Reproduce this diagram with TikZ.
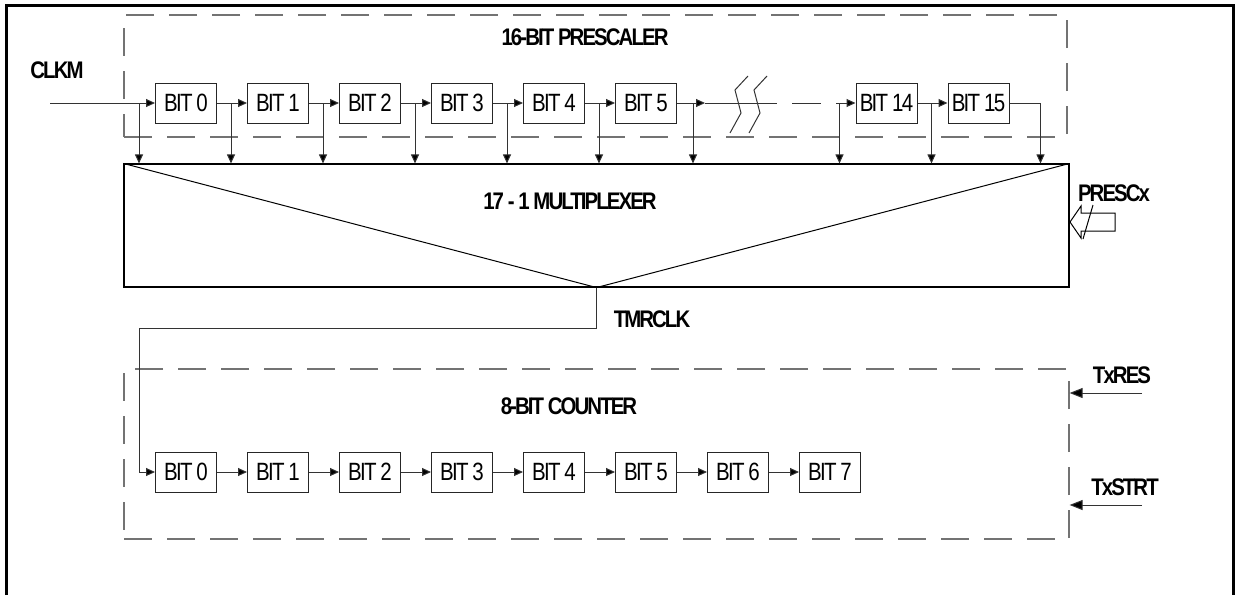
\documentclass[tikz,border=0pt]{standalone}
\usepackage{fontspec}
\setmainfont{Liberation Sans}
\newfontfamily\lblfont[FakeStretch=0.85,LetterSpace=-8]{Liberation Sans}
\newfontfamily\bitfont[FakeStretch=0.82,LetterSpace=-7]{Liberation Sans}
\usetikzlibrary{arrows.meta,positioning,calc}

\begin{document}
\begin{tikzpicture}[x=1pt, y=-1pt, node distance=30pt,
  bitbox/.style={draw=black!85, line width=1pt, minimum width=61pt, minimum height=40pt, inner sep=0pt, font={\bitfont\fontsize{25}{25}\selectfont}},
  lbl/.style={font={\lblfont\bfseries\fontsize{24}{24}\selectfont}, inner sep=0pt},
  groupbox/.style={draw=black!55, line width=1.2pt, dash pattern=on 28pt off 15pt, inner sep=0pt},
  wire/.style={draw=black!80, line width=1pt},
  sig/.style={wire, -{Triangle[length=9pt,width=8pt,fill=black]}},
  ctlsig/.style={wire, -{Triangle[length=13pt,width=10pt,fill=black]}}]
\useasboundingbox (0,0) rectangle (1239,595);
% outer frame, open at the bottom
\draw[line width=3pt] (6,595) -- (6,5) -- (1233,5) -- (1233,595);

% prescaler
\node[groupbox, minimum width=943pt, minimum height=122pt] (pre) at (595.5,76) {};
\node[lbl] (pretitle) at (585,37) {16-BIT PRESCALER};
\node[bitbox] (p0) at (186,103) {BIT 0};
\node[bitbox, right=of p0] (p1) {BIT 1};
\node[bitbox, right=of p1] (p2) {BIT 2};
\node[bitbox, right=of p2] (p3) {BIT 3};
\node[bitbox, right=of p3] (p4) {BIT 4};
\node[bitbox, right=of p4] (p5) {BIT 5};
\node[bitbox] (p14) at (886.5,103) {BIT 14};
\node[bitbox, right=of p14] (p15) {BIT 15};
\node[lbl] (clkm) at (57,70) {CLKM};

% multiplexer
\node[draw, line width=1.1pt, minimum width=945pt, minimum height=123pt, inner sep=0pt] (mux) at (596.5,225.5) {};
\draw[line width=1pt] (mux.north west) -- (mux.south) -- (mux.north east);
\node[lbl] (muxtitle) at (570,201) {17 - 1 MULTIPLEXER};
\node[lbl] (presc) at (1114,193) {PRESCx};
\draw[line width=1pt] (1070,222) -- (1081,206) -- (1081,213) -- (1115,213) -- (1115,231) -- (1081,231) -- (1081,238) -- cycle;
\draw[line width=1pt] (1093,205) -- (1083,239);

% prescaler chain
\coordinate (clk) at (50,103);
\draw[sig] (clk) -- (p0);
\draw[sig] (p0) -- (p1);
\draw[sig] (p1) -- (p2);
\draw[sig] (p2) -- (p3);
\draw[sig] (p3) -- (p4);
\draw[sig] (p4) -- (p5);
\coordinate (brk) at (705,103);
\draw[sig] (p5.east) -- (brk);
\draw[wire] (brk) -- (777,103);
\draw[wire] (792,103) -- (821,103);
\coordinate (b14) at (836,103);
\draw[sig] (b14) -- (p14);
\draw[sig] (p14) -- (p15);
\coordinate (t15) at ($(p15.east)+(31,0)$);
\draw[sig] (p15.east) -| (t15 |- mux.north);
% break marks
\draw[wire] (748,76) -- (735,90) -- (741,113) -- (730,133);
\draw[wire] (767,76) -- (754,90) -- (760,113) -- (749,133);

% taps into the multiplexer
\foreach \b in {p0,p1,p2,p3,p4,p5,p14,p15} {
  \coordinate (t\b) at ($(\b.west)+(-16,0)$);
  \draw[sig] (t\b) -- (t\b |- mux.north);
}
\coordinate (t5o) at ($(p5.east)+(16,0)$);
\draw[sig] (t5o) -- (t5o |- mux.north);

% counter
\node[groupbox, minimum width=945pt, minimum height=170pt] (cnt) at (596.5,454) {};
\node[lbl] (cnttitle) at (569,406) {8-BIT COUNTER};
\node[bitbox] (c0) at (186,472) {BIT 0};
\node[bitbox, right=of c0] (c1) {BIT 1};
\node[bitbox, right=of c1] (c2) {BIT 2};
\node[bitbox, right=of c2] (c3) {BIT 3};
\node[bitbox, right=of c3] (c4) {BIT 4};
\node[bitbox, right=of c4] (c5) {BIT 5};
\node[bitbox, right=of c5] (c6) {BIT 6};
\node[bitbox, right=of c6] (c7) {BIT 7};
\draw[sig] (c0) -- (c1);
\draw[sig] (c1) -- (c2);
\draw[sig] (c2) -- (c3);
\draw[sig] (c3) -- (c4);
\draw[sig] (c4) -- (c5);
\draw[sig] (c5) -- (c6);
\draw[sig] (c6) -- (c7);

% timer clock
\node[lbl] (tmrclk) at (652,319) {TMRCLK};
\coordinate (tin) at ($(c0.west)+(-16,0)$);
\draw[sig] (mux.south) -- ++(0,41) -| (tin) -- (c0.west);

% control inputs
\node[lbl] (txres) at (1122,375) {TxRES};
\node[lbl] (txstrt) at (1125,487) {TxSTRT};
\coordinate (res) at (1142,393);
\coordinate (strt) at (1142,505);
\draw[ctlsig] (res) -- (res -| cnt.east);
\draw[ctlsig] (strt) -- (strt -| cnt.east);
\end{tikzpicture}
\end{document}
